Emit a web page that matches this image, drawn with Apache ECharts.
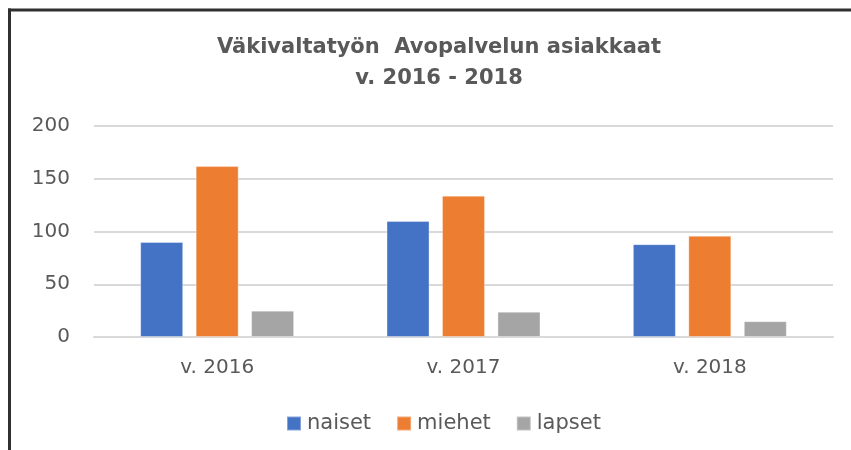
<!DOCTYPE html>
<html><head><meta charset="utf-8">
<script src="https://cdn.jsdelivr.net/npm/echarts@6/dist/echarts.min.js"></script>
<style>html,body{margin:0;padding:0;background:#fff}#c{width:851px;height:450px}</style>
</head><body><div id="c"></div>
<script>
const categories = ['v. 2016', 'v. 2017', 'v. 2018'];
const naiset = [90, 110, 88];
const miehet = [162, 134, 96];
const lapset = [25, 24, 15];
const yTicks = [0, 50, 100, 150, 200];
const seriesNames = ['naiset', 'miehet', 'lapset'];
const colors = ['#4472C4', '#ED7D31', '#A5A5A5'];
const font = 'DejaVu Sans';
const txt = '#595959';

const chart = echarts.init(document.getElementById('c'), null, {renderer: 'canvas'});
const mk = (name, data, i) => ({
  name, type: 'bar', data, barWidth: 43, barGap: '29%',
  itemStyle: {color: colors[i], borderColor: 'rgba(255,255,255,0.35)', borderWidth: 1},
  emphasis: {disabled: true}
});
chart.setOption({
  animation: false,
  backgroundColor: '#fff',
  title: {
    text: 'Väkivaltatyön  Avopalvelun asiakkaat\nv. 2016 - 2018',
    left: 439, top: 32, textAlign: 'center', padding: 0,
    textStyle: {fontFamily: font, fontWeight: 'bold', fontSize: 21, color: txt, lineHeight: 31}
  },
  legend: {
    data: seriesNames, left: 286, top: 413, padding: 0,
    itemWidth: 14, itemHeight: 14, itemGap: 25, icon: 'rect',
    textStyle: {fontFamily: font, fontSize: 21, color: txt, padding: [0,0,0,1]}
  },
  grid: {left: 94, right: 18, top: 126, bottom: 113, containLabel: false},
  xAxis: {
    type: 'category', data: categories,
    axisLine: {show: true, lineStyle: {color: '#d9d9d9', width: 2}},
    axisTick: {show: false},
    axisLabel: {fontFamily: font, fontSize: 20, color: txt, margin: 21}
  },
  yAxis: {
    type: 'value', min: yTicks[0], max: yTicks[yTicks.length - 1], interval: 50,
    axisLine: {show: false}, axisTick: {show: false},
    splitLine: {lineStyle: {color: '#d9d9d9', width: 2}},
    axisLabel: {fontFamily: font, fontSize: 20, color: txt, margin: 24}
  },
  series: [mk('naiset', naiset, 0), mk('miehet', miehet, 1), mk('lapset', lapset, 2)],
  graphic: [
    {type: 'line', shape: {x1: 9.5, y1: 8.5, x2: 9.5, y2: 450}, style: {stroke: '#303030', lineWidth: 3}},
    {type: 'line', shape: {x1: 8, y1: 10, x2: 851, y2: 10}, style: {stroke: '#303030', lineWidth: 3}}
  ]
});
</script></body></html>
